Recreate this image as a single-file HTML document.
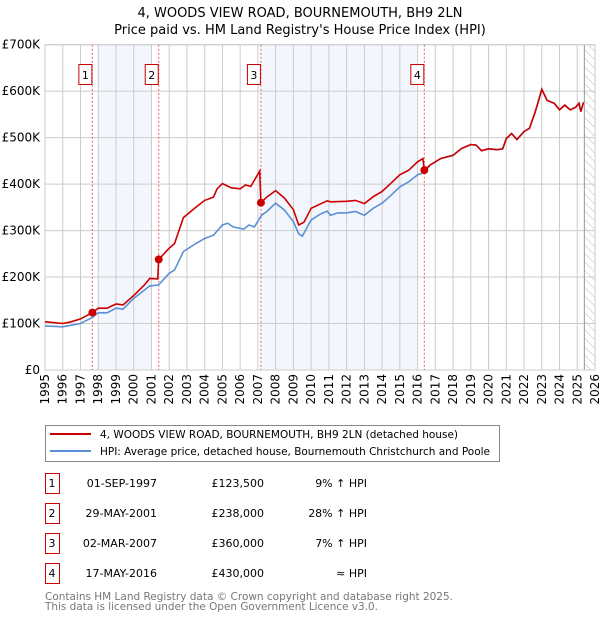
<!DOCTYPE html>
<html><head><meta charset="utf-8"><style>
body{margin:0;background:#fff;width:600px;height:620px;overflow:hidden;font-family:"DejaVu Sans","Liberation Sans",sans-serif}
svg text{font-family:"DejaVu Sans","Liberation Sans",sans-serif}
</style></head><body>
<svg id="chart" width="600" height="620" xmlns="http://www.w3.org/2000/svg">
<defs><pattern id="hatch" width="6" height="6" patternUnits="userSpaceOnUse" patternTransform="rotate(-45)"><line x1="0" y1="0" x2="0" y2="6" stroke="#bbb" stroke-width="1"/></pattern></defs>
<text x="300" y="17" text-anchor="middle" font-size="13">4, WOODS VIEW ROAD, BOURNEMOUTH, BH9 2LN</text>
<text x="300" y="34" text-anchor="middle" font-size="13">Price paid vs. HM Land Registry's House Price Index (HPI)</text>
<g id="plot"></g>
<g>
<rect x="45.5" y="425.5" width="454" height="36" fill="#fff" stroke="#888"/>
<line x1="50" y1="434" x2="91" y2="434" stroke="#cc0000" stroke-width="2"/>
<text x="100" y="438" font-size="10.5" textLength="358" lengthAdjust="spacingAndGlyphs">4, WOODS VIEW ROAD, BOURNEMOUTH, BH9 2LN (detached house)</text>
<line x1="50" y1="451" x2="91" y2="451" stroke="#5b8fd6" stroke-width="2"/>
<text x="100" y="455" font-size="10.5" textLength="390" lengthAdjust="spacingAndGlyphs">HPI: Average price, detached house, Bournemouth Christchurch and Poole</text>
</g>
<g id="table" font-size="11"></g>
<text x="45" y="600" font-size="10.5" textLength="408" lengthAdjust="spacingAndGlyphs" fill="#777">Contains HM Land Registry data © Crown copyright and database right 2025.</text>
<text x="45" y="610" font-size="10.5" textLength="333" lengthAdjust="spacingAndGlyphs" fill="#777">This data is licensed under the Open Government Licence v3.0.</text>
</svg>
<script>
const yTicks=[0,100,200,300,400,500,600,700];
const yTickLabels=["£0","£100K","£200K","£300K","£400K","£500K","£600K","£700K"];
const xYears=[1995,1996,1997,1998,1999,2000,2001,2002,2003,2004,2005,2006,2007,2008,2009,2010,2011,2012,2013,2014,2015,2016,2017,2018,2019,2020,2021,2022,2023,2024,2025,2026];
const saleYears=[1997.67,2001.41,2007.17,2016.38];
const saleValues=[123.5,238,360,430];
const saleLabels=["1","2","3","4"];
const saleDates=["01-SEP-1997","29-MAY-2001","02-MAR-2007","17-MAY-2016"];
const salePrices=["£123,500","£238,000","£360,000","£430,000"];
const saleHpi=["9% ↑ HPI","28% ↑ HPI","7% ↑ HPI","≈ HPI"];
const hpiYears=[1995,1996,1997,1997.67,1998,1998.5,1999,1999.4,2000,2000.6,2000.9,2001.4,2002,2002.3,2002.8,2003.5,2004,2004.5,2005,2005.3,2005.6,2006.2,2006.5,2006.8,2007.2,2007.5,2008,2008.5,2009,2009.3,2009.5,2010,2010.5,2010.9,2011.1,2011.5,2012,2012.5,2013,2013.5,2014,2014.5,2015,2015.5,2016,2016.38,2016.7,2017.3,2018,2018.5,2019,2019.3,2019.6,2020,2020.5,2020.8,2021,2021.3,2021.6,2022,2022.3,2022.6,2022.8,2023.0,2023.3,2023.7,2024.0,2024.3,2024.6,2024.9,2025.1,2025.2,2025.35];
const hpiValues=[95,93,100,113,123,123,133,131,154,172,181,183,208,215,255,272,283,290,312,316,308,303,312,308,333,341,359,344,319,293,288,323,335,342,333,338,338,341,333,348,359,376,394,405,420,425,441,455,462,477,485,484,472,476,474,476,498,509,496,513,520,552,577,604,580,574,560,570,560,565,574,556,576];
const priceYears=[1995,1996,1996.5,1997,1997.67,1998,1998.5,1999,1999.4,2000,2000.6,2000.9,2001.35,2001.41,2002,2002.3,2002.8,2003.5,2004,2004.5,2004.7,2005,2005.5,2006,2006.3,2006.6,2007.1,2007.17,2007.5,2008,2008.5,2009,2009.3,2009.6,2010,2010.9,2011.1,2012,2012.5,2013,2013.5,2014,2014.5,2015,2015.5,2016,2016.3,2016.38,2016.7,2017.3,2018,2018.5,2019,2019.3,2019.6,2020,2020.5,2020.8,2021,2021.3,2021.6,2022,2022.3,2022.6,2022.8,2023.0,2023.3,2023.7,2024.0,2024.3,2024.6,2024.9,2025.1,2025.2,2025.35];
const priceValues=[104,100,104,110,123.5,133,133,142,140,160,183,197,196,238,262,272,328,350,365,372,390,401,392,390,398,395,428,360,372,386,370,345,312,318,348,364,362,363,365,358,373,384,402,420,430,448,455,430,441,455,462,477,485,484,472,476,474,476,498,509,496,513,520,552,577,604,580,574,560,570,560,565,574,556,576];
const X0=45,X1=595,Y0=370,Y1=44.7;
function xs(y){return X0+(y-1995)/(2026-1995)*(X1-X0);}
function ys(v){return Y0-v/700*(Y0-Y1);}
const NS="http://www.w3.org/2000/svg";
const plot=document.getElementById('plot');
function mk(tag,attrs,parent){const e=document.createElementNS(NS,tag);for(const k in attrs)e.setAttribute(k,attrs[k]);(parent||plot).appendChild(e);return e;}
let b=mk('rect',{x:xs(1998),y:Y1,width:xs(2001.0)-xs(1998),height:Y0-Y1,fill:'#eef3fc',opacity:0.7});


b=mk('rect',{x:xs(2007.2),y:Y1,width:xs(2016.05)-xs(2007.2),height:Y0-Y1,fill:'#eef3fc',opacity:0.7});


b=mk('rect',{x:xs(2025.4),y:Y1,width:X1-xs(2025.4),height:Y0-Y1,fill:'url(#hatch)'});


yTicks.forEach((v,i)=>{
 const l=mk('line',{x1:X0,x2:X1,y1:ys(v),y2:ys(v),stroke:'#ccc'});
 
 
 const t=mk('text',{x:40,y:ys(v)+4,'text-anchor':'end','font-size':12});
 t.textContent=yTickLabels[i];
 
 
});
xYears.forEach(yr=>{
 const l=mk('line',{x1:xs(yr),x2:xs(yr),y1:Y1,y2:Y0,stroke:'#ccc'});
 
 
 const t=mk('text',{transform:`translate(${xs(yr)+4},374) rotate(-90)`,'text-anchor':'end','font-size':12});
 t.textContent=yr;
 
 
});
const bl=mk('line',{x1:xs(2025.4),x2:xs(2025.4),y1:Y1,y2:Y0,stroke:'#999'});


const fr=mk('rect',{x:X0,y:Y1,width:X1-X0,height:Y0-Y1,fill:'none',stroke:'#ccc'});


saleYears.forEach((yr,i)=>{
 const l=mk('line',{x1:xs(yr),x2:xs(yr),y1:Y1,y2:Y0,stroke:'#e06060','stroke-dasharray':'2,2'});
 
 
 const r=mk('rect',{x:xs(yr)-13.5,y:64.5,width:13,height:20,fill:'#fff',stroke:'#cc0000'});
 
 
 const t=mk('text',{x:xs(yr)-7,y:79,'text-anchor':'middle','font-size':11});
 t.textContent=saleLabels[i];
 
 
});
function path(xa,va){return xa.map((x,i)=>(i?'L':'M')+xs(x).toFixed(1)+','+ys(va[i]).toFixed(1)).join('');}
const hp=mk('path',{d:path(hpiYears,hpiValues),fill:'none',stroke:'#5b8fd6','stroke-width':1.6});


const pp=mk('path',{d:path(priceYears,priceValues),fill:'none',stroke:'#cc0000','stroke-width':1.6});


saleYears.forEach((yr,i)=>{
 const c=mk('circle',{cx:xs(yr),cy:ys(saleValues[i]),r:4,fill:'#cc0000'});
 
 
});
const tb=document.getElementById('table');
saleLabels.forEach((lab,i)=>{
 const cy=483+i*30;
 const r=mk('rect',{x:45.5,y:cy-9.5,width:14,height:20,fill:'#fff',stroke:'#cc0000'},tb);
 
 
 const cols=[[52,'middle',lab],[157,'end',saleDates[i]],[264,'end',salePrices[i]],[367,'end',saleHpi[i]]];
 cols.forEach(c=>{
  const t=mk('text',{x:c[0],y:cy+4,'text-anchor':c[1]},tb);
  t.textContent=c[2];
  
  
 });
});
</script>
</body></html>
